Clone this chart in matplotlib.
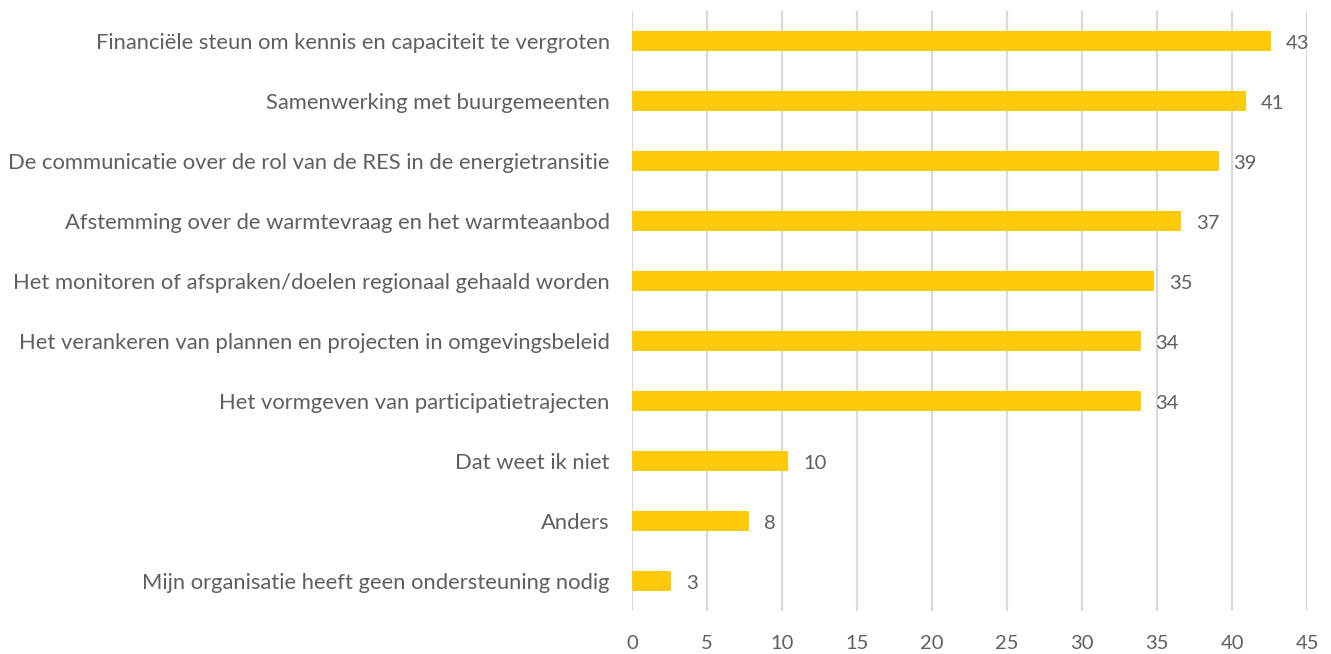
import matplotlib
matplotlib.use("Agg")
import matplotlib.pyplot as plt

categories = [
    "Financiële steun om kennis en capaciteit te vergroten",
    "Samenwerking met buurgemeenten",
    "De communicatie over de rol van de RES in de energietransitie",
    "Afstemming over de warmtevraag en het warmteaanbod",
    "Het monitoren of afspraken/doelen regionaal gehaald worden",
    "Het verankeren van plannen en projecten in omgevingsbeleid",
    "Het vormgeven van participatietrajecten",
    "Dat weet ik niet",
    "Anders",
    "Mijn organisatie heeft geen ondersteuning nodig",
]
values = [42.6, 40.9, 39.1, 36.6, 34.8, 33.9, 33.9, 10.4, 7.8, 2.6]
xticks = [0, 5, 10, 15, 20, 25, 30, 35, 40, 45]

plt.rcParams['font.family'] = ['Lato', 'DejaVu Sans']
text_color = '#5f5f5f'
bar_color = '#FFCA08'
grid_color = '#d9d9d9'

fig = plt.figure(figsize=(13.31, 6.54), dpi=100)
ax = fig.add_axes([0.4748, 0.0657, 0.5072, 0.9173])

y = list(range(len(categories)))
ax.barh(y, values, height=0.345, color=bar_color, zorder=3)
ax.set_ylim(len(categories) - 0.5, -0.5)
ax.set_xlim(0, 45)
ax.set_xticks(xticks)
ax.set_xticklabels([str(t) for t in xticks], fontsize=14.5, color=text_color)
ax.set_yticks(y)
ax.set_yticklabels(categories, fontsize=15.8, color=text_color)
ax.tick_params(axis='both', length=0)
ax.tick_params(axis='y', pad=16)
ax.tick_params(axis='x', pad=17)
for s in ax.spines.values():
    s.set_visible(False)
ax.grid(axis='x', color=grid_color, linewidth=1.6, zorder=0)
ax.set_axisbelow(True)

for yi, v in zip(y, values):
    ax.annotate(f"{v:.0f}", xy=(v, yi), xytext=(15, -2), textcoords='offset pixels',
                va='center', ha='left', fontsize=14.5, color=text_color)

fig.savefig("out.png", dpi=100)
